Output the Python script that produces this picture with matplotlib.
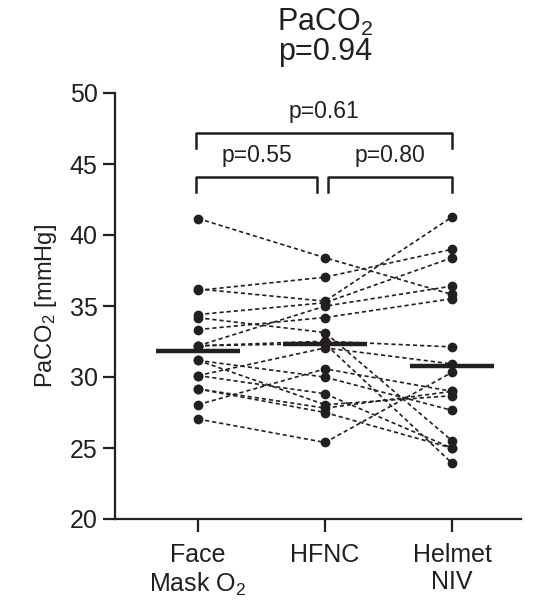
import matplotlib
matplotlib.use("Agg")
import matplotlib.pyplot as plt

plt.rcParams['font.family'] = ['Liberation Sans', 'DejaVu Sans']
plt.rcParams['mathtext.fontset'] = 'custom'
plt.rcParams['mathtext.rm'] = 'Liberation Sans'
plt.rcParams['mathtext.default'] = 'regular'

groups = ["Face\nMask O$_2$", "HFNC", "Helmet\nNIV"]

# one value per patient, same order in every list
face_mask = [41.16, 36.1, 36.2, 34.4, 32.2, 33.34, 34.17, 32.2, 30.1,
             31.17, 28.05, 30.1, 31.17, 29.16, 27.04, 32.2, 29.16]
hfnc = [38.40, 37.03, 35.34, 35.23, 34.99, 34.19, 33.13, 32.35, 32.05,
        29.99, 30.57, 28.82, 28.05, 27.50, 25.39, 32.52, 27.81]
helmet = [35.81, 38.99, 41.27, 38.40, 36.40, 35.51, 25.51, 23.93, 30.92,
          27.65, 28.99, 24.99, 28.68, 24.99, 30.33, 32.12, 28.99]

group_means = [31.8, 32.3, 30.75]

overall_p = "p=0.94"
pair_labels = ["p=0.55", "p=0.80", "p=0.61"]

ink = "#231f20"

fig = plt.figure(figsize=(5.38, 6.0), dpi=100)
ax = fig.add_axes([0.2138, 0.135, 0.7546, 0.71])

x = [0, 1, 2]
for a, b, c in zip(face_mask, hfnc, helmet):
    ax.plot(x, [a, b, c], color=ink, lw=1.2, ls=(0, (2.5, 1.8)),
            marker="o", ms=6, mfc=ink, mec=ink, zorder=2)

for i, m in enumerate(group_means):
    ax.plot([i - 0.33, i + 0.33], [m, m], color=ink, lw=3.2,
            solid_capstyle="butt", zorder=3)

# significance brackets
def bracket(x0, x1, y_top, y_bot, label):
    ax.plot([x0, x0, x1, x1], [y_bot, y_top, y_top, y_bot], color=ink,
            lw=1.8, clip_on=False)
    ax.text((x0 + x1) / 2, y_top + 0.75, label, ha="center", va="bottom",
            fontsize=16.5, color=ink)

bracket(-0.02, 0.94, 44.05, 43.0, pair_labels[0])
bracket(1.02, 2.0, 44.05, 43.0, pair_labels[1])
bracket(-0.02, 2.0, 47.15, 46.1, pair_labels[2])

ax.set_xlim(-0.654, 2.543)
ax.set_ylim(20, 50)
ax.set_yticks([20, 25, 30, 35, 40, 45, 50])
ax.set_xticks(x)
ax.set_xticklabels(groups)
ax.tick_params(axis="both", labelsize=18, colors=ink, width=1.6, length=9)
ax.tick_params(axis="x", pad=8)
for s in ["top", "right"]:
    ax.spines[s].set_visible(False)
for s in ["left", "bottom"]:
    ax.spines[s].set_linewidth(1.6)
    ax.spines[s].set_color(ink)

ax.set_ylabel("PaCO$_2$ [mmHg]", fontsize=17, color=ink, labelpad=8)

fig.text(0.604, 0.963, "PaCO$_2$", ha="center", va="center",
         fontsize=22, color=ink)
fig.text(0.604, 0.913, overall_p, ha="center", va="center",
         fontsize=22, color=ink)

fig.savefig("out.png", dpi=100)
